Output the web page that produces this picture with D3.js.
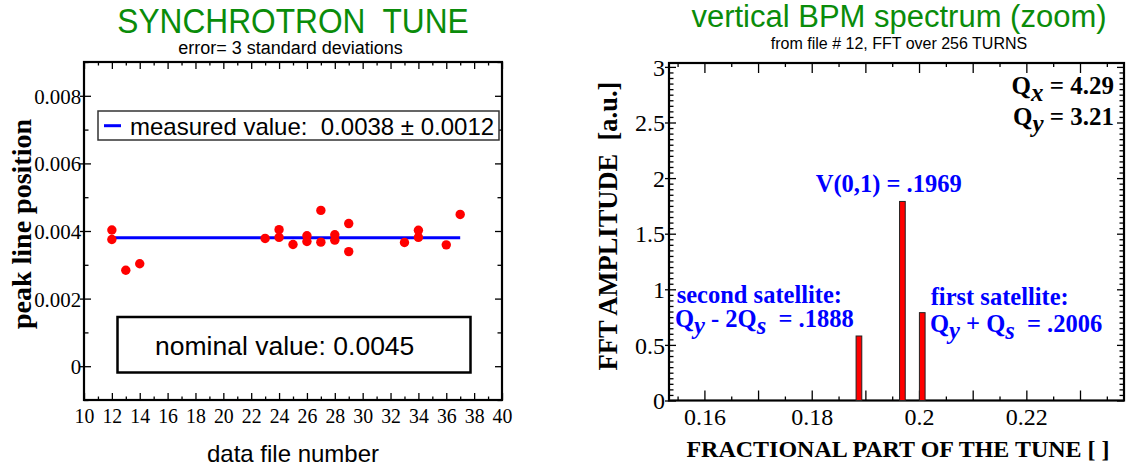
<!DOCTYPE html>
<html>
<head>
<meta charset="utf-8">
<script src="https://cdn.jsdelivr.net/npm/d3@7"></script>
<style>
  html, body { margin: 0; padding: 0; background: #fff; }
  svg { display: block; }
  text { white-space: pre; }
</style>
</head>
<body>
<svg id="chart" width="1131" height="470"></svg>
<script>
// ---- Synchrotron tune: peak line position for each data file ----
const fileNumbers   = [12, 12, 13, 14, 23, 24, 24, 25, 26, 26, 27, 27, 28, 28, 29, 29, 33, 34, 34, 36, 37];
const peakPositions = [0.00403, 0.00375, 0.00284, 0.00303, 0.00378, 0.00404, 0.00381, 0.00360, 0.00386, 0.00369,
                       0.00461, 0.00367, 0.00389, 0.00373, 0.00422, 0.00339, 0.00366, 0.00402, 0.00381, 0.00359, 0.00449];
const measuredValue = 0.0038;
const measuredError = 0.0012;
const measuredSpan  = [12, 37];
const nominalValue  = 0.0045;
const fileTicks     = [10, 12, 14, 16, 18, 20, 22, 24, 26, 28, 30, 32, 34, 36, 38, 40];
const positionTicks = [0, 0.002, 0.004, 0.006, 0.008];

// ---- Vertical BPM spectrum (zoom) ----
const tuneFractions  = [0.1888, 0.1969, 0.2006];
const fftAmplitudes  = [0.58, 1.79, 0.79];
const tuneTicks      = [0.16, 0.18, 0.2, 0.22];
const amplitudeTicks = [0, 0.5, 1, 1.5, 2, 2.5, 3];
const machineTunes   = [["x", "4.29"], ["y", "3.21"]];

const SERIF = "'Liberation Serif','Times New Roman',serif";
const SANS  = "'Liberation Sans',Arial,sans-serif";
const GREEN = "#0a8c0a";
const BLUE  = "#0000ff";
const RED   = "#ff0000";

const svg = d3.select("#chart");

// draws one set of ticks (and optional labels) along one side of a frame
function tickSet(axisFn, scale, values, inward, translate, opts = {}) {
  const ax = axisFn(scale).tickValues(values).tickSize(-inward).tickPadding(0)
    .tickFormat(opts.format || (() => ""));
  const g = svg.append("g").attr("transform", translate).call(ax);
  g.select(".domain").remove();
  g.selectAll("line").attr("stroke", "#000").attr("stroke-width", 1.3);
  if (opts.outward) {
    if (axisFn === d3.axisLeft) g.selectAll("line").attr("x1", -opts.outward);
    if (axisFn === d3.axisBottom) g.selectAll("line").attr("y1", opts.outward);
  }
  g.selectAll("text")
    .attr("font-family", SERIF)
    .attr("font-size", opts.fontSize || 21)
    .attr("fill", "#000");
  return g;
}

// ================= left panel =================
const xL = d3.scaleLinear().domain([10, 40]).range([84, 502]);
const yL = d3.scaleLinear().domain([-0.001, 0.009]).range([400, 62]);

// minor + major ticks on all four sides
tickSet(d3.axisBottom, xL, d3.range(11, 40, 2), 3.5, `translate(0,${yL.range()[0]})`);
tickSet(d3.axisTop,    xL, d3.range(11, 40, 2), 3.5, `translate(0,${yL.range()[1]})`);
tickSet(d3.axisTop,    xL, fileTicks, 7, `translate(0,${yL.range()[1]})`);
tickSet(d3.axisBottom, xL, fileTicks, 7, `translate(0,${yL.range()[0]})`,
        { format: d3.format("d"), fontSize: 22 })
  .selectAll("text").attr("y", 22.7).attr("dy", null)
  .attr("transform", "scale(0.9,1)");

const yMinorL = d3.range(-1, 10, 2).map(i => i / 1000);
tickSet(d3.axisLeft,  yL, yMinorL, 4.5, `translate(${xL.range()[0]},0)`);
tickSet(d3.axisRight, yL, yMinorL, 4.5, `translate(${xL.range()[1]},0)`);
tickSet(d3.axisRight, yL, positionTicks, 7, `translate(${xL.range()[1]},0)`);
tickSet(d3.axisLeft,  yL, positionTicks, 7, `translate(${xL.range()[0]},0)`,
        { format: d => d === 0 ? "0" : d3.format(".3f")(d), outward: 4, fontSize: 22 })
  .selectAll("text").attr("x", -3).attr("dy", "0.34em")
  .attr("transform", "scale(0.95,1)");

svg.append("rect")
  .attr("x", xL.range()[0]).attr("y", yL.range()[1])
  .attr("width", xL.range()[1] - xL.range()[0]).attr("height", yL.range()[0] - yL.range()[1])
  .attr("fill", "none").attr("stroke", "#000").attr("stroke-width", 2.2);

// measured mean value
svg.append("line")
  .attr("x1", xL(measuredSpan[0])).attr("x2", xL(measuredSpan[1]))
  .attr("y1", yL(measuredValue)).attr("y2", yL(measuredValue))
  .attr("stroke", BLUE).attr("stroke-width", 3);

// individual measurements
svg.append("g").selectAll("circle")
  .data(fileNumbers.map((f, i) => [f, peakPositions[i]]))
  .join("circle")
  .attr("cx", d => xL(d[0])).attr("cy", d => yL(d[1]))
  .attr("r", 4.7).attr("fill", RED);

// legend
svg.append("rect").attr("x", 98).attr("y", 111).attr("width", 401).attr("height", 29)
  .attr("fill", "#fff").attr("stroke", "#333").attr("stroke-width", 1.5);
svg.append("line").attr("x1", 104).attr("x2", 121).attr("y1", 125.7).attr("y2", 125.7)
  .attr("stroke", BLUE).attr("stroke-width", 3);
svg.append("text").attr("x", 130).attr("y", 134.5)
  .attr("font-family", SANS).attr("font-size", 24).attr("fill", "#000")
  .text(`measured value:  ${measuredValue.toFixed(4)} \u00b1 ${measuredError.toFixed(4)}`);

// nominal value box
svg.append("rect").attr("x", 117.5).attr("y", 317).attr("width", 353).attr("height", 55.5)
  .attr("fill", "none").attr("stroke", "#000").attr("stroke-width", 2.5);
svg.append("text").attr("x", 284.7).attr("y", 355).attr("text-anchor", "middle")
  .attr("font-family", SANS).attr("font-size", 26.5).attr("fill", "#000")
  .text(`nominal value: ${nominalValue.toFixed(4)}`);

// titles and axis labels
svg.append("text").attr("transform", "translate(293,33) scale(0.88,1)")
  .attr("text-anchor", "middle").attr("font-family", SANS).attr("font-size", 36)
  .attr("fill", GREEN).text("SYNCHROTRON  TUNE");
svg.append("text").attr("x", 290.5).attr("y", 53.5).attr("text-anchor", "middle")
  .attr("font-family", SANS).attr("font-size", 18).attr("fill", "#000")
  .text("error= 3 standard deviations");
svg.append("text").attr("x", 293).attr("y", 461.5).attr("text-anchor", "middle")
  .attr("font-family", SANS).attr("font-size", 24).attr("fill", "#000")
  .text("data file number");
svg.append("text").attr("transform", "translate(31,224) rotate(-90)")
  .attr("text-anchor", "middle").attr("font-family", SERIF).attr("font-weight", "bold")
  .attr("font-size", 28).attr("fill", "#000").text("peak line position");

// ================= right panel =================
const xR = d3.scaleLinear().domain([0.1534, 0.2382]).range([669, 1124]);
const yR = d3.scaleLinear().domain([0, 3.035]).range([400.5, 63]);

const xMinorR = d3.range(31, 48, 2).map(i => +(i * 0.005).toFixed(3));
const xMajorR = d3.range(16, 24).map(i => i / 100);
tickSet(d3.axisBottom, xR, xMinorR, 4, `translate(0,${yR.range()[0]})`);
tickSet(d3.axisTop,    xR, xMinorR, 4, `translate(0,${yR.range()[1]})`);
tickSet(d3.axisTop,    xR, xMajorR, 10, `translate(0,${yR.range()[1]})`);
tickSet(d3.axisBottom, xR, xMajorR, 10, `translate(0,${yR.range()[0]})`,
        { format: d => tuneTicks.includes(d) ? String(d) : "", fontSize: 24 })
  .selectAll("text").attr("y", 24.5).attr("dy", null);

const yMinorR = d3.range(0, 61).filter(i => i % 10 !== 0).map(i => i / 20);
tickSet(d3.axisLeft,  yR, yMinorR, 4.5, `translate(${xR.range()[0]},0)`);
tickSet(d3.axisRight, yR, yMinorR, 4.5, `translate(${xR.range()[1]},0)`);
tickSet(d3.axisRight, yR, amplitudeTicks, 7, `translate(${xR.range()[1]},0)`);
tickSet(d3.axisLeft,  yR, amplitudeTicks, 7, `translate(${xR.range()[0]},0)`,
        { format: d => String(d), outward: 4, fontSize: 24 })
  .selectAll("text").attr("x", -4).attr("dy", "0.34em");

svg.append("rect")
  .attr("x", xR.range()[0]).attr("y", yR.range()[1])
  .attr("width", xR.range()[1] - xR.range()[0]).attr("height", yR.range()[0] - yR.range()[1])
  .attr("fill", "none").attr("stroke", "#000").attr("stroke-width", 2.2);

// spectrum lines
const binHalf = 0.00053;
svg.append("g").selectAll("rect")
  .data(tuneFractions.map((t, i) => [t, fftAmplitudes[i]]))
  .join("rect")
  .attr("x", d => xR(d[0] - binHalf))
  .attr("width", d => xR(d[0] + binHalf) - xR(d[0] - binHalf))
  .attr("y", d => yR(d[1]))
  .attr("height", d => yR(0) - yR(d[1]))
  .attr("fill", RED).attr("stroke", "#222").attr("stroke-width", 1);

// machine tunes
machineTunes.forEach(([plane, q], i) => {
  const t = svg.append("text").attr("x", 1114).attr("y", 94 + i * 31)
    .attr("text-anchor", "end").attr("font-family", SERIF).attr("font-weight", "bold")
    .attr("font-size", 25).attr("fill", "#000");
  t.append("tspan").text("Q");
  t.append("tspan").attr("font-style", "italic").attr("dy", 7).text(plane);
  t.append("tspan").attr("dy", -7).text(` = ${q}`);
});

// peak annotations
function annot(x, y, parts) {
  const t = svg.append("text").attr("x", x).attr("y", y)
    .attr("font-family", SERIF).attr("font-weight", "bold")
    .attr("font-size", 24.5).attr("fill", BLUE);
  let shift = 0;
  parts.forEach(p => {
    const sub = typeof p !== "string";
    const s = t.append("tspan").text(sub ? p.sub : p);
    const target = sub ? 7 : 0;
    if (target !== shift) { s.attr("dy", target - shift); shift = target; }
    if (sub) s.attr("font-style", "italic");
  });
}
const fmtTune = v => d3.format(".4f")(v).replace(/^0/, "");
annot(815.7, 191.7, [`V(0,1) = ${fmtTune(tuneFractions[1])}`]);
annot(676.7, 302.7, ["second satellite:"]);
annot(675, 326.7, ["Q", { sub: "y" }, " - 2Q", { sub: "s" }, `  = ${fmtTune(tuneFractions[0])}`]);
annot(930.7, 304.5, ["first satellite:"]);
annot(930, 331.5, ["Q", { sub: "y" }, " + Q", { sub: "s" }, `  = ${fmtTune(tuneFractions[2])}`]);

// titles and axis labels
svg.append("text").attr("x", 899).attr("y", 26.7).attr("text-anchor", "middle")
  .attr("font-family", SANS).attr("font-size", 31).attr("fill", GREEN)
  .text("vertical BPM spectrum (zoom)");
svg.append("text").attr("x", 899).attr("y", 49).attr("text-anchor", "middle")
  .attr("font-family", SANS).attr("font-size", 16).attr("fill", "#000")
  .text("from file # 12, FFT over 256 TURNS");
svg.append("text").attr("x", 898).attr("y", 456.7).attr("text-anchor", "middle")
  .attr("font-family", SERIF).attr("font-weight", "bold").attr("font-size", 24).attr("fill", "#000")
  .text("FRACTIONAL PART OF THE TUNE [ ]");
svg.append("text").attr("transform", "translate(617,226) rotate(-90)")
  .attr("text-anchor", "middle").attr("font-family", SERIF).attr("font-weight", "bold")
  .attr("font-size", 26.5).attr("fill", "#000").text("FFT AMPLITUDE  [a.u.]");
</script>
</body>
</html>
